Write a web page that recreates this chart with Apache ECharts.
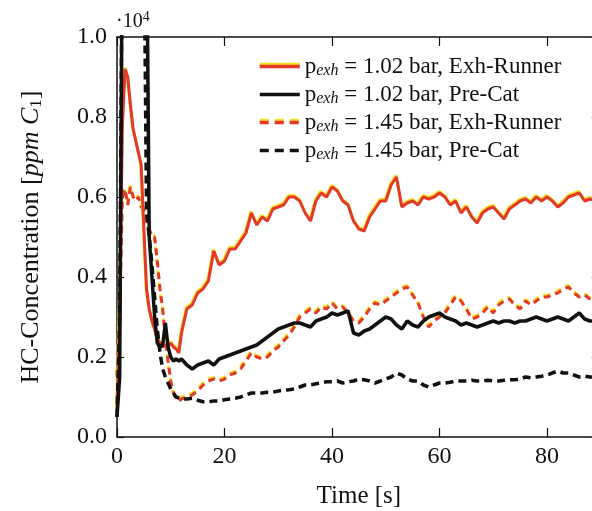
<!DOCTYPE html>
<html><head><meta charset="utf-8">
<script src="https://cdn.jsdelivr.net/npm/echarts@6/dist/echarts.min.js"></script>
<style>html,body{margin:0;padding:0;background:#fff}#c{width:592px;height:511px}</style>
</head><body><div id="c"></div>
<script>
// Time [s]
const time = [0,0.5,1,1.5,2,2.5,3,3.5,4,4.5,5,5.5,6,6.5,7,7.5,8,8.5,9,9.5,10,10.5,11,11.5,12,
  13,14,15,16,17,18,19,20,21,22,23,24,25,26,27,28,29,30,31,32,33,34,35,36,37,38,39,40,
  41,42,43,44,45,46,47,48,49,50,51,52,53,54,55,56,57,58,59,60,61,62,63,64,65,66,67,68,69,70,
  71,72,73,74,75,76,77,78,79,80,81,82,83,84,85,86,87,88,89,90];
// HC concentration (x 10^4 ppm C1)
const exh102 = [0.07,0.3,0.78,0.92,0.9,0.83,0.77,0.74,0.71,0.68,0.52,0.37,0.32,0.29,0.27,0.245,0.235,0.225,0.23,0.225,0.235,0.225,0.22,0.21,0.26,
  0.32,0.33,0.36,0.37,0.39,0.465,0.43,0.44,0.47,0.47,0.49,0.51,0.56,0.53,0.55,0.54,0.57,0.575,0.58,0.6,0.6,0.59,0.56,0.54,0.59,0.61,0.6,0.625,
  0.615,0.59,0.58,0.54,0.52,0.515,0.55,0.57,0.59,0.59,0.63,0.65,0.575,0.585,0.59,0.58,0.6,0.595,0.6,0.61,0.6,0.58,0.59,0.56,0.575,0.55,0.535,0.56,0.57,0.575,
  0.56,0.545,0.57,0.58,0.59,0.595,0.585,0.6,0.59,0.6,0.59,0.575,0.585,0.6,0.605,0.61,0.59,0.595,0.59,0.6];
const pre102 = [0.05,0.15,1.3,1.3,1.3,1.3,1.3,1.3,1.3,1.3,1.3,1.3,0.5,0.4,0.3,0.235,0.225,0.23,0.285,0.225,0.2,0.19,0.195,0.19,0.195,
  0.18,0.17,0.18,0.185,0.19,0.18,0.195,0.2,0.205,0.21,0.215,0.22,0.225,0.23,0.24,0.25,0.26,0.27,0.275,0.28,0.285,0.285,0.28,0.275,0.29,0.295,0.3,0.31,
  0.305,0.31,0.315,0.26,0.255,0.265,0.27,0.28,0.29,0.3,0.295,0.28,0.27,0.29,0.28,0.275,0.29,0.3,0.305,0.31,0.3,0.295,0.29,0.28,0.285,0.28,0.275,0.28,0.285,0.29,
  0.285,0.29,0.29,0.285,0.29,0.29,0.295,0.3,0.295,0.29,0.295,0.3,0.295,0.29,0.3,0.31,0.295,0.29,0.29,0.29];
const exh145 = [0.15,0.3,0.6,0.62,0.58,0.625,0.6,0.59,0.6,0.575,0.57,0.54,0.52,0.5,0.5,0.44,0.37,0.32,0.25,0.19,0.14,0.11,0.095,0.09,0.095,
  0.1,0.105,0.115,0.13,0.14,0.145,0.14,0.145,0.155,0.16,0.17,0.19,0.21,0.2,0.195,0.2,0.215,0.225,0.24,0.255,0.275,0.3,0.31,0.32,0.31,0.325,0.32,0.335,
  0.32,0.325,0.31,0.29,0.285,0.3,0.32,0.335,0.33,0.34,0.35,0.36,0.37,0.375,0.355,0.335,0.3,0.275,0.29,0.3,0.31,0.33,0.35,0.34,0.32,0.295,0.3,0.31,0.325,0.31,
  0.33,0.34,0.345,0.33,0.32,0.34,0.33,0.34,0.35,0.35,0.355,0.36,0.37,0.375,0.36,0.35,0.355,0.345,0.34,0.345];
const pre145 = [0.05,0.3,1.3,1.3,1.3,1.3,1.3,1.3,1.3,1.3,1.3,0.56,0.5,0.43,0.35,0.27,0.21,0.17,0.15,0.135,0.12,0.11,0.1,0.0975,0.095,
  0.095,0.097,0.092,0.088,0.088,0.09,0.09,0.093,0.095,0.097,0.1,0.105,0.11,0.11,0.11,0.112,0.112,0.115,0.117,0.118,0.12,0.125,0.13,0.13,0.133,0.135,0.138,0.138,
  0.14,0.135,0.138,0.14,0.145,0.143,0.14,0.135,0.14,0.145,0.15,0.16,0.155,0.145,0.14,0.14,0.13,0.125,0.13,0.135,0.135,0.137,0.14,0.14,0.14,0.142,0.14,0.14,0.142,0.14,
  0.14,0.142,0.143,0.143,0.145,0.15,0.148,0.15,0.152,0.155,0.16,0.165,0.16,0.16,0.155,0.15,0.152,0.15,0.15,0.15];
const seriesNames = ['1.02 bar, Exh-Runner','1.02 bar, Pre-Cat','1.45 bar, Exh-Runner','1.45 bar, Pre-Cat'];
const xTicks = [0,20,40,60,80];
const yTicks = [0.0,0.2,0.4,0.6,0.8,1.0];

const RED = '#e2392a', YEL = '#f4df1c', BLK = '#111111';
const FONT = 'Liberation Serif';
const zip = arr => time.map((t,i)=>[t,arr[i]]);

const chart = echarts.init(document.getElementById('c'), null, {renderer:'canvas'});
const redLine = (type)=>({color:RED,width:3,type:type,shadowColor:YEL,shadowBlur:0,shadowOffsetX:-0.5,shadowOffsetY:-1.6});
const blkLine = (type)=>({color:BLK,width:3.5,type:type});
const redLeg = (type)=>({color:RED,width:3.5,type:type,shadowColor:YEL,shadowBlur:0,shadowOffsetX:0,shadowOffsetY:-2});
const blkLeg = (type)=>({color:BLK,width:3.5,type:type,shadowBlur:0,shadowColor:'rgba(0,0,0,0)'});
const legendStyles = [redLeg('solid'), blkLeg('solid'), redLeg([9,6]), blkLeg([9,6])];

chart.setOption({
  animation:false,
  backgroundColor:'#fff',
  grid:{left:117,right:-8.75,top:37,bottom:74,outerBoundsMode:'none',containLabel:false},
  graphic:[{type:'text',left:116,top:10,style:{text:'{a|·10}{b|4}',rich:{
    a:{fontFamily:FONT,fontSize:20,fill:'#111'},
    b:{fontFamily:FONT,fontSize:14,fill:'#111',verticalAlign:'top',padding:[0,0,9,0]}}}}],
  legend:{
    show:true, orient:'vertical', left:253, top:50, itemWidth:40, itemHeight:12, itemGap:4,
    itemStyle:{opacity:0,borderWidth:0},
    data:seriesNames.map((n,i)=>({name:n,lineStyle:legendStyles[i]})),
    formatter:n=>'{p|p}{s|exh}{t| = '+n+'}',
    textStyle:{fontFamily:FONT,fontSize:23,color:'#111',rich:{
      p:{fontFamily:FONT,fontSize:23,color:'#111'},
      s:{fontFamily:FONT,fontSize:16,fontStyle:'italic',color:'#111',padding:[9,0,0,0]},
      t:{fontFamily:FONT,fontSize:23,color:'#111'}}}
  },
  xAxis:[{
    type:'value',min:0,max:90,interval:20,position:'bottom',
    name:'Time [s]',nameLocation:'middle',nameGap:47,
    nameTextStyle:{fontFamily:FONT,fontSize:25,color:'#111'},
    axisLine:{show:true,onZero:false,lineStyle:{color:BLK,width:1.5}},
    axisTick:{show:true,inside:true,length:9,lineStyle:{color:BLK,width:1.2}},
    axisLabel:{show:true,margin:8,showMaxLabel:false,fontFamily:FONT,fontSize:24,color:'#111',
      formatter:v=>xTicks.includes(v)?String(v):''},
    splitLine:{show:false}
  },{
    type:'value',min:0,max:90,interval:20,position:'top',
    axisLine:{show:true,onZero:false,lineStyle:{color:BLK,width:1.5}},
    axisTick:{show:true,inside:true,length:9,lineStyle:{color:BLK,width:1.2}},
    axisLabel:{show:false},splitLine:{show:false}
  }],
  yAxis:[{
    type:'value',min:0,max:1,interval:0.2,position:'left',
    name:'{n|HC-Concentration [}{i|ppm C}{s|1}{n|]}',nameLocation:'middle',nameGap:72,
    nameTextStyle:{fontFamily:FONT,fontSize:26,color:'#111',rich:{
      n:{fontFamily:FONT,fontSize:26,color:'#111'},
      i:{fontFamily:FONT,fontSize:26,fontStyle:'italic',color:'#111'},
      s:{fontFamily:FONT,fontSize:17,color:'#111',padding:[10,0,0,0]}}},
    axisLine:{show:true,onZero:false,lineStyle:{color:BLK,width:1.5}},
    axisTick:{show:true,inside:true,length:7,lineStyle:{color:BLK,width:1.2}},
    axisLabel:{show:true,margin:10,fontFamily:FONT,fontSize:24,color:'#111',
      formatter:v=>yTicks.some(t=>Math.abs(t-v)<1e-9)?v.toFixed(1):''},
    splitLine:{show:false}
  },{
    type:'value',min:0,max:1,interval:0.2,position:'right',
    axisLine:{show:true,onZero:false,lineStyle:{color:BLK,width:1.5}},
    axisTick:{show:true,inside:true,length:9,lineStyle:{color:BLK,width:1.2}},
    axisLabel:{show:false},splitLine:{show:false}
  }],
  series:[
    {name:seriesNames[0],type:'line',data:zip(exh102),symbol:'none',showSymbol:false,z:3,lineStyle:redLine('solid'),itemStyle:{color:RED}},
    {name:seriesNames[1],type:'line',data:zip(pre102),symbol:'none',showSymbol:false,z:5,lineStyle:blkLine('solid'),itemStyle:{color:BLK}},
    {name:seriesNames[2],type:'line',data:zip(exh145),symbol:'none',showSymbol:false,z:2,lineStyle:redLine([7,5]),itemStyle:{color:RED}},
    {name:seriesNames[3],type:'line',data:zip(pre145),symbol:'none',showSymbol:false,z:4,lineStyle:blkLine([8,5]),itemStyle:{color:BLK}}
  ]
});
</script></body></html>
